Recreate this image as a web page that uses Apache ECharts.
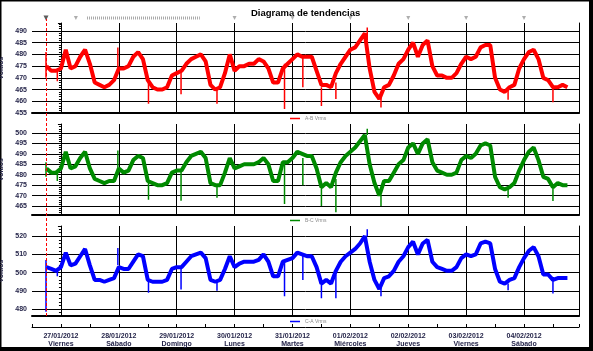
<!DOCTYPE html>
<html>
<head>
<meta charset="utf-8" />
<title>Diagrama de tendencias</title>
<script src="https://cdn.jsdelivr.net/npm/echarts@6.0.0/dist/echarts.min.js"></script>
<style>html,body{margin:0;padding:0;background:#fff;}</style>
</head>
<body>
<div id="main" style="width:593px;height:351px;"></div>
<script type="text/javascript">
// horas relativas al 27/01/2012 00:00, una muestra cada 2 h desde las 18:00 del 26/01
var sampleStart = -6, sampleStep = 2;

var abVals = [475,473,473,474,482,474,475,479,482,476,468,467,
  466,467,469,474,474,475,479,481,478,469,466,465,
  465,466,471,472,473,476,478,479,480,477,467,465,
  466,472,480,473,475,475,476,476,478,477,474,468,
  468,474,476,478,480,479,479,479,473,467,467,466,
  472,476,479,482,483,486,489,474,464,461,466,467,
  471,476,478,482,485,479,484,486,475,471,471,470,
  470,472,476,479,478,479,483,484,484,470,465,464,
  466,467,474,478,481,482,478,470,469,466,466,467,
  466];
var bcVals = [483,481,481,483,491,483,484,488,491,483,478,477,
  476,477,477,483,481,482,487,489,488,477,476,475,
  475,476,481,482,482,486,489,490,491,488,476,475,
  475,481,488,483,484,485,485,485,486,488,485,477,
  477,486,486,488,491,490,489,489,483,474,476,474,
  481,486,489,491,493,496,499,485,476,470,477,477,
  481,485,487,493,495,490,495,497,486,482,481,480,
  480,481,487,489,488,490,494,495,494,479,474,473,
  474,476,482,487,491,493,487,479,478,474,476,475,
  475];
var caVals = [503,502,501,503,511,504,505,509,513,504,496,496,
  495,496,497,503,502,502,506,510,509,496,495,495,
  495,496,502,503,503,506,509,510,511,508,496,495,
  496,502,509,503,505,506,506,506,507,510,506,498,
  498,506,507,508,511,510,509,509,503,494,496,494,
  501,506,509,511,513,516,520,506,496,491,497,498,
  501,506,509,514,517,510,516,518,506,503,502,501,
  501,503,508,510,509,510,516,517,516,502,495,494,
  496,497,503,508,512,514,509,499,499,496,497,497,
  497];

// picos sueltos: hora, valor de la banda y extremo del pico
var spikeHours = [-6.2, -1.5, 23.6, 36.3, 49.8, 64.7, 92.7, 100.3, 108, 114, 127, 132.7, 185.4, 204];
var abSpikeBase = [470, 473, 474, 468, 473, 465, 476, 479, 466, 468, 486, 462, 465, 466];
var abSpikeTip  = [481, 468.5, 483, 459, 463, 459, 456.7, 466, 458, 461, 491.5, 457.4, 460.7, 459.6];
var bcSpikeBase = [479, 481, 482, 476, 482, 475, 486, 488, 475, 478, 499, 470, 474, 475];
var bcSpikeTip  = [486, 477, 491.6, 468, 467.5, 469, 466, 475, 465, 462, 502, 465, 469, 467.4];
var caSpikeBase = [507, 502, 504, 496, 503, 495, 507, 510, 496, 499, 520, 492, 494, 496];
var caSpikeTip  = [478.5, 498, 513.5, 489, 490.7, 490, 487, 496, 486, 486, 523.8, 487, 490.4, 488.5];

var dayHours = [0, 24, 48, 72, 96, 120, 144, 168, 192];
var dayDates = ['27/01/2012','28/01/2012','29/01/2012','30/01/2012','31/01/2012','01/02/2012','02/02/2012','03/02/2012','04/02/2012'];
var dayNames = ['Viernes','Sábado','Domingo','Lunes','Martes','Miércoles','Jueves','Viernes','Sábado'];
var cursorHour = -6.2;
var eventHours = [6.2, 72, 96, 120, 144, 168, 192];
var eventStrip = [10.8, 57.6];

var names = ['A-B Vrms', 'B-C Vrms', 'C-A Vrms'];
var colors = ['#ff0000', '#008a00', '#0000ff'];
var vals = [abVals, bcVals, caVals];
var spikeBase = [abSpikeBase, bcSpikeBase, caSpikeBase];
var spikeTip = [abSpikeTip, bcSpikeTip, caSpikeTip];

var xMin = -12, xMax = 214.8;
var panels = [
  {top: 23, height: 90, min: 455, max: 493.4, split: 8, minLabel: true},
  {top: 124, height: 91, min: 460.7, max: 504.3, split: 8, minLabel: false},
  {top: 226, height: 90, min: 476.2, max: 525.6, split: 5, minLabel: false}
];
var labelColor = '#25254a';
var font = 'Liberation Sans, Arial, sans-serif';

var grids = [], xAxes = [], yAxes = [], series = [], legends = [];
panels.forEach(function (p, i) {
  grids.push({left: 32, right: 14, top: p.top, height: p.height, outerBoundsMode: 'none', containLabel: false});
  // líneas de día: cada 12 h, sólo se pinta una de cada dos
  xAxes.push({
    type: 'value', gridIndex: i, min: xMin, max: xMax, interval: 12,
    axisLine: {onZero: false, lineStyle: {color: '#000', width: 2}},
    axisTick: {show: false}, axisLabel: {show: false},
    splitLine: {show: true, showMinLine: false, showMaxLine: false,
      lineStyle: {color: ['#000', 'rgba(0,0,0,0)'], width: 1}}
  });
  yAxes.push({
    type: 'value', gridIndex: i, min: p.min, max: p.max, splitNumber: p.split,
    name: 'Voltios', nameLocation: 'middle', nameGap: 24,
    nameTextStyle: {fontSize: 7, fontWeight: 'bold', color: labelColor, fontFamily: font},
    axisLine: {show: true, lineStyle: {color: '#000', width: 1}},
    axisTick: {show: true, length: 3, lineStyle: {color: '#000'}},
    minorTick: {show: true, splitNumber: 5, length: 2, lineStyle: {color: '#000'}},
    axisLabel: {fontSize: 7, fontWeight: 'bold', color: labelColor, fontFamily: font, margin: 5,
      showMinLabel: p.minLabel, showMaxLabel: false},
    splitLine: {show: true, showMinLine: false, showMaxLine: false, lineStyle: {color: '#000', width: 1}}
  });

  var data = vals[i].map(function (v, k) { return [sampleStart + k * sampleStep, v]; });
  series.push({
    name: names[i], type: 'line', xAxisIndex: i, yAxisIndex: i,
    data: data, showSymbol: false, symbol: 'none', color: colors[i],
    lineStyle: {width: 4, color: colors[i]}, animation: false
  });
  var sp = [];
  spikeHours.forEach(function (h, k) {
    sp.push([h, spikeBase[i][k]], [h, spikeTip[i][k]], null);
  });
  series.push({
    name: names[i], type: 'line', xAxisIndex: i, yAxisIndex: i, data: sp,
    connectNulls: false, showSymbol: false, symbol: 'none', color: colors[i],
    lineStyle: {width: 1.5, color: colors[i]}, animation: false
  });
  legends.push({
    data: [names[i]], left: 290, top: p.top + p.height + 3, padding: 0,
    icon: 'rect', itemWidth: 10, itemHeight: 1.5, itemGap: 3, selectedMode: false,
    textStyle: {fontSize: 5, color: '#8a8a8a', fontFamily: font}
  });
});
// borde derecho de cada panel
panels.forEach(function (p, i) {
  yAxes.push({type: 'value', gridIndex: i, position: 'right', min: 0, max: 1,
    axisLine: {show: true, lineStyle: {color: '#000', width: 1}},
    axisTick: {show: false}, axisLabel: {show: false}, splitLine: {show: false}});
});

// eje de fechas inferior
grids.push({left: 32, right: 14, top: 326, height: 1, outerBoundsMode: 'none', containLabel: false});
xAxes.push({
  type: 'value', gridIndex: 3, min: xMin, max: xMax, interval: 12,
  axisLine: {onZero: false, lineStyle: {color: '#000', width: 1}},
  axisTick: {show: true, inside: true, length: 3, lineStyle: {color: '#000'}},
  axisLabel: {fontSize: 7, fontWeight: 'bold', color: labelColor, fontFamily: font, margin: 5, lineHeight: 8,
    formatter: function (v) {
      var k = dayHours.indexOf(Math.round(v * 10) / 10);
      return k < 0 ? '' : dayDates[k] + '\n' + dayNames[k];
    }},
  splitLine: {show: false}
});
yAxes.push({type: 'value', gridIndex: 3, min: 0, max: 1, show: false});

// marcas de eventos sobre el primer panel
grids.push({left: 32, right: 14, top: 15, height: 6, outerBoundsMode: 'none', containLabel: false});
xAxes.push({type: 'value', gridIndex: 4, min: xMin, max: xMax, show: false});
yAxes.push({type: 'value', gridIndex: 4, min: -1, max: 1, show: false});
series.push({
  type: 'line', xAxisIndex: 4, yAxisIndex: 7, data: eventStrip.map(function (h) { return [h, 0]; }),
  symbol: 'none', lineStyle: {color: '#aaaaaa', width: 3, type: [1, 1]}, animation: false, silent: true
});
series.push({
  type: 'scatter', xAxisIndex: 4, yAxisIndex: 7, data: eventHours.map(function (h) { return [h, 0]; }),
  symbol: 'triangle', symbolRotate: 180, symbolSize: 4, itemStyle: {color: '#999999'}, animation: false, silent: true
});
series.push({
  type: 'scatter', xAxisIndex: 4, yAxisIndex: 7, data: [[cursorHour, 0]],
  symbol: 'triangle', symbolRotate: 180, symbolSize: 5, itemStyle: {color: '#333333'}, animation: false, silent: true
});

// cursor rojo discontinuo que cruza los tres paneles
grids.push({left: 32, right: 14, top: 19, height: 297, outerBoundsMode: 'none', containLabel: false});
xAxes.push({type: 'value', gridIndex: 5, min: xMin, max: xMax, show: false});
yAxes.push({type: 'value', gridIndex: 5, min: 0, max: 1, show: false});
series.push({
  type: 'line', xAxisIndex: 5, yAxisIndex: 8, data: [], z: 3, animation: false, silent: true,
  markLine: {silent: true, symbol: ['none', 'none'], label: {show: false}, animation: false,
    lineStyle: {color: '#ff0000', type: [3, 2], width: 1},
    data: [{xAxis: cursorHour}]}
});

var myChart = echarts.init(document.getElementById('main'), null, {renderer: 'canvas'});
var option = {
  backgroundColor: '#fff',
  animation: false,
  title: {text: 'Diagrama de tendencias', left: 246, top: 3,
    textStyle: {fontSize: 9.5, fontWeight: 'bold', color: '#000', fontFamily: font}},
  legend: legends,
  grid: grids,
  xAxis: xAxes,
  yAxis: yAxes,
  series: series,
  graphic: [
    {type: 'rect', shape: {x: 0.75, y: 0.75, width: 590, height: 347}, style: {fill: 'none', stroke: '#000', lineWidth: 1.5}, silent: true},
    {type: 'rect', shape: {x: 589, y: 0, width: 4, height: 351}, style: {fill: '#000'}, silent: true},
    {type: 'rect', shape: {x: 0, y: 347, width: 593, height: 4}, style: {fill: '#000'}, silent: true}
  ]
};
myChart.setOption(option);
</script>
</body>
</html>
